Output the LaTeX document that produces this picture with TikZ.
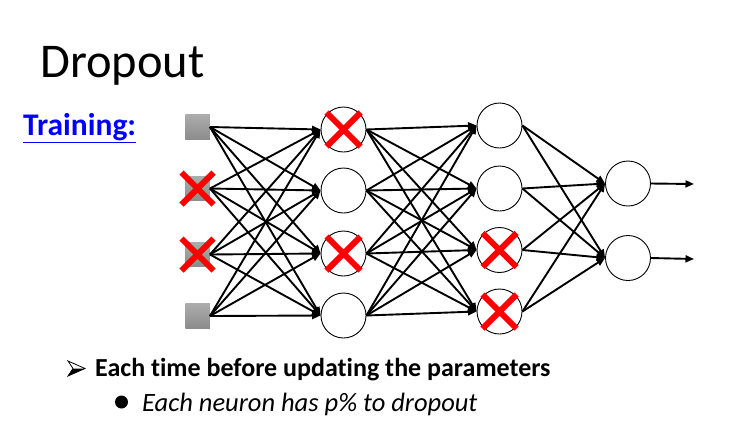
\documentclass[tikz,border=0pt]{standalone}
\usepackage{fontspec}
\setmainfont{Carlito}[Ligatures=NoCommon]
\usetikzlibrary{arrows.meta}
\begin{document}
\begin{tikzpicture}[x=1pt,y=-1pt,
  insq/.style={draw=none,minimum size=24.5pt,inner sep=0pt,top color={rgb,255:red,172;green,172;blue,172},bottom color={rgb,255:red,140;green,140;blue,140}},
  neuron/.style={circle,draw=black,line width=0.9pt,minimum size=45pt,inner sep=0pt,fill=white},
  conn/.style={line width=1.9pt,-{Triangle[length=8.5pt,width=7pt]}},
  redx/.style={red,line width=6pt},
  txt/.style={anchor=base west,inner sep=0pt}]
\useasboundingbox (0,0) rectangle (751,445);
% title
\node[txt,font=\fontsize{48.5}{56}\selectfont] (title) at (40,77) {Dropout};
\node[txt,font=\fontsize{31.5}{36}\selectfont\bfseries,text={rgb,255:red,0;green,0;blue,255}] (train) at (23,135) {\underline{Training:}};
% inputs
\node[insq] (i1) at (197.5,127) {};
\node[insq] (i2) at (197.5,188.5) {};
\node[insq] (i3) at (197.5,254.5) {};
\node[insq] (i4) at (197.5,316) {};
% hidden 1
\node[neuron] (a1) at (343.5,129.5) {};
\node[neuron] (a2) at (343.5,190.5) {};
\node[neuron] (a3) at (343.5,253.5) {};
\node[neuron] (a4) at (343.5,315.5) {};
% hidden 2
\node[neuron] (b1) at (499.5,125.5) {};
\node[neuron] (b2) at (499.5,188.5) {};
\node[neuron] (b3) at (499.5,250) {};
\node[neuron] (b4) at (499.5,311.5) {};
% outputs
\node[neuron] (o1) at (628,183.5) {};
\node[neuron] (o2) at (628,258) {};
\coordinate (e1) at (694,184);
\coordinate (e2) at (694,259);
% connections
\foreach \s in {1,2,3,4}{\foreach \t in {1,2,3,4}{\draw[conn] (i\s.east) -- (a\t.west);}}
\foreach \s in {1,2,3,4}{\foreach \t in {1,2,3,4}{\draw[conn] (a\s.east) -- (b\t.west);}}
\foreach \s in {1,2,3,4}{\foreach \t in {1,2}{\draw[conn] (b\s.east) -- (o\t.west);}}
\draw[conn] (o1.east) -- (e1);
\draw[conn] (o2.east) -- (e2);
% red crosses
\foreach \n in {a1,a3,b3,b4}{
  \draw[redx] ([shift={(-17,-17)}]\n.center) -- ([shift={(17,17)}]\n.center);
  \draw[redx] ([shift={(-17,17)}]\n.center) -- ([shift={(17,-17)}]\n.center);}
\foreach \n in {i2,i3}{
  \draw[redx] ([shift={(-16,-16)}]\n.center) -- ([shift={(16,16)}]\n.center);
  \draw[redx] ([shift={(-16,16)}]\n.center) -- ([shift={(16,-16)}]\n.center);}
% bullets
\coordinate (ar) at (68,368.5);
\fill[black] (ar) ++(0,7.5) -- ++(17,-7.5) -- ++(-12,0) -- cycle;
\draw[black,line width=0.8pt,line join=miter] (ar) ++(0,-7.5) -- ++(17,7.5) -- ++(-17,7.5) -- ++(5,-7.5) -- cycle;
\node[txt,font=\fontsize{26}{30}\selectfont\bfseries] (l1) at (95,376) {Each time before updating the parameters};
\fill[black] (121.5,402) circle (6.5pt);
\node[txt,font=\fontsize{26.5}{30}\selectfont\itshape] (l2) at (142,411) {Each neuron has p\% to dropout};
\end{tikzpicture}
\end{document}
